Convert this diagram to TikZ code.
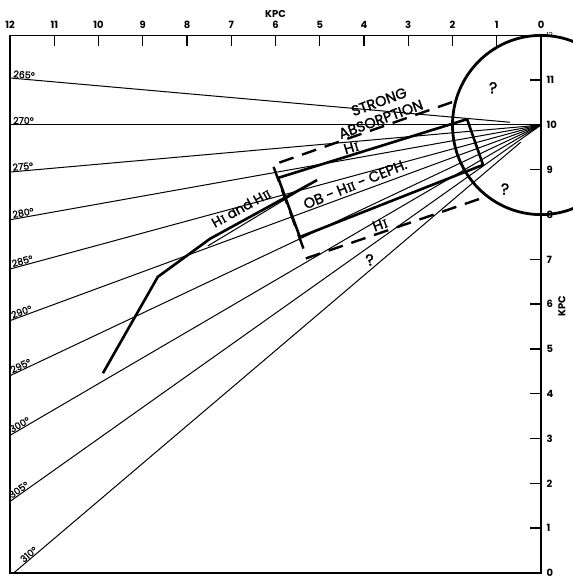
\documentclass[tikz,border=0pt]{standalone}
\usepackage{fontspec}
\setmainfont{Poppins}
\newfontfamily\romfont[Scale=0.85,FakeBold=1.5]{Liberation Serif}
\usepackage{tikz}
\usetikzlibrary{calc}
\newcommand{\hone}{H\kern0.6pt{\romfont I}}
\newcommand{\htwo}{H\kern0.6pt{\romfont I\kern-0.3pt I}}

\begin{document}
\begin{tikzpicture}[
  frame/.style={line width=1.4bp},
  lon/.style={line width=1bp},
  heavy/.style={line width=2.6bp,line join=round},
  dashbox/.style={line width=2.4bp,dash pattern=on 15bp off 9bp},
  ticklab/.style={font=\fontsize{10}{12}\selectfont\bfseries,inner sep=1bp},
  lonlab/.style={font=\fontsize{9.5}{11}\selectfont\addfontfeature{FakeBold=1.2},
                 inner sep=0.8bp,anchor=south west},
  armlab/.style={font=\fontsize{14.5}{16}\selectfont\addfontfeature{FakeBold=1.5}},
  qmark/.style={font=\fontsize{16}{18}\selectfont\addfontfeature{FakeBold=1.5}}
]
\useasboundingbox (0,0) rectangle (573bp,583bp);
\begin{scope}[shift={(541bp,10bp)},x=-44.25bp,y=44.8bp]
\coordinate (sun) at (0,10);
% axes and frame
\draw[frame] (0,0) rectangle (12,12);
\foreach \k in {1,...,11} {
  \draw[frame] (\k,12) -- ++(0,-0.24);
  \draw[frame] (0,\k) -- ++(0.24,0);
}
\foreach \k in {0,...,12}
  \node[ticklab,anchor=south] (top\k) at (\k,12.13) {\k};
\foreach \k in {0,...,11}
  \node[ticklab,anchor=west] (right\k) at (-0.1,\k) {\k};
\node[ticklab,font=\fontsize{7}{8}\selectfont,anchor=west] (right12) at (-0.1,12.02) {12};
\node[ticklab] (kpctop) at (6,12.48) {KPC};
\node[ticklab,rotate=90] (kpcright) at (-0.47,5.96) {KPC};

% lines of galactic longitude
\begin{scope}
\clip (0,0) rectangle (12,12);
\foreach \l/\s in {265/0.7,270/0,275/0,280/0,285/0,290/0,295/0,300/0,305/0,310/0.6} {
  \pgfmathsetmacro\t{\l-270}
  \draw[lon] ($(sun)+(-\t:\s)$) -- ++(-\t:17);
}
\end{scope}
\foreach \l/\r in {265/12.0,270/11.95,275/12.0,280/12.13,285/12.37,290/12.72,
                   295/13.19,300/13.81,305/14.6,310/15.26} {
  \pgfmathsetmacro\t{\l-270}
  \node[rotate=\t,lonlab] (lon\l) at ($(sun)+(-\t:\r)$) {\l°};
}

% spiral arm features
\draw[heavy] (9.90,4.46) -- (8.66,6.61) -- (7.48,7.46) -- (5.06,8.77);
\draw[lon] (7.53,7.30) -- (5.06,8.77);
\draw[heavy] (5.94,8.82) -- (1.67,10.13) -- (1.31,9.11) -- (5.45,7.50) -- cycle;
\draw[dashbox] (2.01,10.51) -- (6.06,9.11) -- (5.29,7.03) -- (1.33,8.37);
\draw[line width=2.8bp] (sun) circle[radius=2];

\node[armlab,rotate=20] (strong) at (3.66,10.52) {STRONG};
\node[armlab,rotate=20] (absorp) at (3.62,10.13) {ABSORPTION};
\node[armlab,rotate=17] (hiup) at (4.29,9.50) {\hone};
\node[armlab,rotate=22] (ob) at (4.20,8.68) {OB - \htwo\ - CEPH.};
\node[armlab,rotate=20] (hilow) at (3.64,7.78) {\hone};
\node[armlab,rotate=29,font=\fontsize{13.5}{15}\selectfont\addfontfeature{FakeBold=1.5}]
  (hihii) at (6.78,8.15) {\hone\ and \htwo};
\node[qmark,rotate=15] (qlow) at (3.86,6.99) {?};
\node[qmark] (qtop) at (1.08,10.83) {?};
\node[qmark] (qbot) at (0.81,8.57) {?};
\end{scope}
\end{tikzpicture}
\end{document}
